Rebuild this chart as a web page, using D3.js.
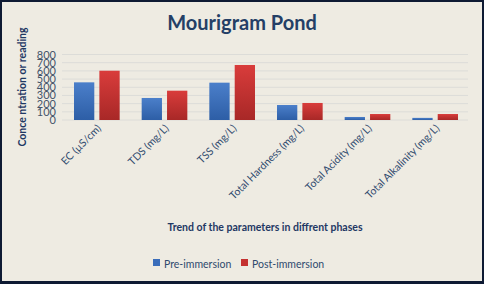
<!DOCTYPE html>
<html><head><meta charset="utf-8">
<script src="https://cdn.jsdelivr.net/npm/d3@7"></script>
<style>html,body{margin:0;padding:0;background:#fff}svg{display:block}</style>
</head><body>
<script>
const categories = ["EC (µS/cm)", "TDS (mg/L)", "TSS (mg/L)", "Total Hardness (mg/L)", "Total Acidity (mg/L)", "Total Alkalinity (mg/L)"];
const preImmersion = [460, 269, 456, 183, 37, 26];
const postImmersion = [602, 358, 672, 208, 73, 73];
const seriesNames = ["Pre-immersion", "Post-immersion"];
const yTicks = [0, 100, 200, 300, 400, 500, 600, 700, 800];

const W = 484, H = 284;
const font = "Lato, 'Open Sans', sans-serif";
const svg = d3.select("body").append("svg").attr("width", W).attr("height", H);
const defs = svg.append("defs");
const gb = defs.append("linearGradient").attr("id","gBlue").attr("x1",0).attr("y1",0).attr("x2",0).attr("y2",1);
gb.append("stop").attr("offset","0%").attr("stop-color","#4b7fca");
gb.append("stop").attr("offset","100%").attr("stop-color","#2d5ea6");
const gr = defs.append("linearGradient").attr("id","gRed").attr("x1",0).attr("y1",0).attr("x2",0).attr("y2",1);
gr.append("stop").attr("offset","0%").attr("stop-color","#d93c3b");
gr.append("stop").attr("offset","100%").attr("stop-color","#a82827");

svg.append("rect").attr("width",W).attr("height",H).attr("fill","#0e1a33");
svg.append("rect").attr("x",2).attr("y",2).attr("width",W-4).attr("height",H-5).attr("fill","#eeebe2");

const x0 = d3.scaleBand().domain(categories).range([62, 468]).paddingInner(0).paddingOuter(0);
const x1 = d3.scaleBand().domain(seriesNames).range([12, x0.bandwidth()-10]).paddingInner(0.2);
const y = d3.scaleLinear().domain([0, 800]).range([120, 54.5]);

// gridlines
svg.append("g").selectAll("line").data(yTicks).join("line")
  .attr("x1",62).attr("x2",468).attr("y1",d=>y(d)).attr("y2",d=>y(d))
  .attr("stroke","#dcdcd8").attr("stroke-width",1);

// y axis
const yAxis = svg.append("g").attr("transform","translate(62,0)")
  .call(d3.axisLeft(y).tickValues(yTicks).tickSize(0).tickPadding(6));
yAxis.select(".domain").remove();
yAxis.selectAll("text").attr("font-family",font).attr("font-size",11).attr("fill","#44546a");

// bars
const vals = [preImmersion, postImmersion];
const fills = ["url(#gBlue)", "url(#gRed)"];
seriesNames.forEach((s, si) => {
  svg.append("g").selectAll("rect").data(categories).join("rect")
    .attr("x", c => x0(c) + x1(s))
    .attr("y", (c,i) => y(vals[si][i]))
    .attr("width", x1.bandwidth())
    .attr("height", (c,i) => y(0) - y(vals[si][i]))
    .attr("fill", fills[si]);
});

// x labels
svg.append("g").selectAll("text").data(categories).join("text")
  .attr("transform", c => `translate(${x0(c)+x0.bandwidth()/2+6},${129}) rotate(-45)`)
  .attr("text-anchor","end")
  .attr("font-family",font).attr("font-size",10.5).attr("fill","#2f4a6e")
  .text(c=>c);

// title
svg.append("text").attr("x",242).attr("y",30).attr("text-anchor","middle")
  .attr("font-family",font).attr("font-weight","bold").attr("font-size",20).attr("fill","#243f66")
  .text("Mourigram Pond");

// y title
svg.append("text").attr("transform","translate(26,87) rotate(-90)").attr("text-anchor","middle")
  .attr("font-family",font).attr("font-weight","bold").attr("font-size",10.5).attr("fill","#1f3864")
  .text("Conce ntration or reading");

// x title
svg.append("text").attr("x",265).attr("y",231).attr("text-anchor","middle")
  .attr("font-family",font).attr("font-weight","bold").attr("font-size",10.5).attr("fill","#1f3864")
  .text("Trend of the parameters in diffrent phases");

// legend
const legendFill = ["#3a6dba", "#c43130"];
const lg = svg.append("g");
const lx = [153, 241];
seriesNames.forEach((s,i)=>{
  lg.append("rect").attr("x",lx[i]).attr("y",259).attr("width",7).attr("height",7).attr("fill",legendFill[i]);
  lg.append("text").attr("x",lx[i]+11).attr("y",267.5).attr("font-family",font).attr("font-size",10.5)
    .attr("fill","#2f4a6e").text(s);
});
</script>
</body></html>
